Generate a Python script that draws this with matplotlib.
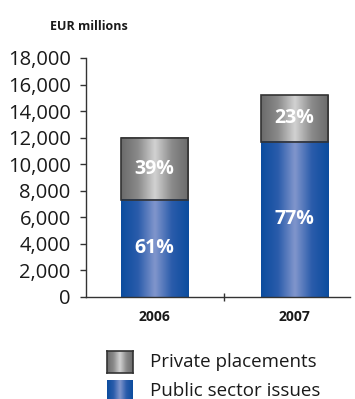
import numpy as np
import matplotlib
matplotlib.use("Agg")
import matplotlib.pyplot as plt
from matplotlib.colors import LinearSegmentedColormap
from matplotlib.patches import Rectangle

plt.rcParams["font.family"] = ["Open Sans", "DejaVu Sans"]

years = ["2006", "2007"]
totals = [12000, 15200]
public_share = [61, 77]
private_share = [39, 23]
yticks = [0, 2000, 4000, 6000, 8000, 10000, 12000, 14000, 16000, 18000]

public = [t * s / 100 for t, s in zip(totals, public_share)]
private = [t - p for t, p in zip(totals, public)]

blue_cmap = LinearSegmentedColormap.from_list(
    "blue_bar", ["#0b4c9e", "#2a5cab", "#8196cc", "#2a5cab", "#0b4c9e"])
grey_cmap = LinearSegmentedColormap.from_list(
    "grey_bar", ["#6a6a6a", "#8a8a8a", "#d2d2d2", "#8a8a8a", "#6a6a6a"])
shade = np.linspace(0, 1, 256).reshape(1, -1)

fig = plt.figure(figsize=(3.55, 3.99), dpi=100)
ax = fig.add_axes([86 / 355, 102 / 399, 264 / 355, 239 / 399])

width = 0.48


def gradient_bar(x, bottom, height, cmap, edge=None):
    x0, x1 = x - width / 2, x + width / 2
    ax.imshow(shade, cmap=cmap, aspect="auto", interpolation="bicubic",
              extent=(x0, x1, bottom, bottom + height), zorder=2)
    if edge:
        ax.add_patch(Rectangle((x0, bottom), width, height, fill=False,
                               edgecolor=edge, linewidth=1.2, zorder=3))


for i in range(len(years)):
    gradient_bar(i, public[i], private[i], grey_cmap, edge="#333333")
    gradient_bar(i, 0, public[i], blue_cmap)
    ax.text(i, public[i] / 2, f"{public_share[i]}%", color="white",
            fontsize=14, fontweight="bold", ha="center", va="center", zorder=4)
    ax.text(i, public[i] + private[i] / 2, f"{private_share[i]}%", color="white",
            fontsize=14, fontweight="bold", ha="center", va="center", zorder=4)

ax.set_xlim(-0.49, 1.40)
ax.set_ylim(0, 18000)
ax.set_yticks(yticks)
ax.set_yticklabels([f"{v:,}" for v in yticks], fontsize=14.5, color="#1a1a1a")
ax.set_xticks([0.5])
ax.set_xticklabels([""])
ax.tick_params(axis="y", direction="out", length=4, width=1, pad=7, color="#333333")
ax.tick_params(axis="x", direction="inout", length=6, width=1, color="#333333")
for i, y in enumerate(years):
    ax.text(i, -1500, y, fontsize=10, fontweight="bold", ha="center", va="center",
            color="#1a1a1a")

for side in ["top", "right"]:
    ax.spines[side].set_visible(False)
for side in ["left", "bottom"]:
    ax.spines[side].set_color("#333333")
    ax.spines[side].set_linewidth(1)

fig.text(89 / 355, 1 - 27 / 399, "EUR millions", fontsize=9, fontweight="bold",
         ha="center", va="center", color="#1a1a1a")

# legend swatches below the plot
legend_items = [("Private placements", grey_cmap, "#333333", 362),
                ("Public sector issues", blue_cmap, None, 391)]
for label, cmap, edge, yc in legend_items:
    sw = fig.add_axes([107 / 355, 1 - (yc + 11) / 399, 26 / 355, 22 / 399])
    sw.imshow(shade, cmap=cmap, aspect="auto", interpolation="bicubic",
              extent=(0, 1, 0, 1))
    sw.set_xlim(0, 1)
    sw.set_ylim(0, 1)
    sw.set_xticks([])
    sw.set_yticks([])
    for s in sw.spines.values():
        s.set_visible(edge is not None)
        s.set_color("#333333")
        s.set_linewidth(1.2)
    fig.text(150 / 355, 1 - yc / 399, label, fontsize=13.5, ha="left",
             va="center", color="#1a1a1a")

fig.savefig("out.png", dpi=100)
